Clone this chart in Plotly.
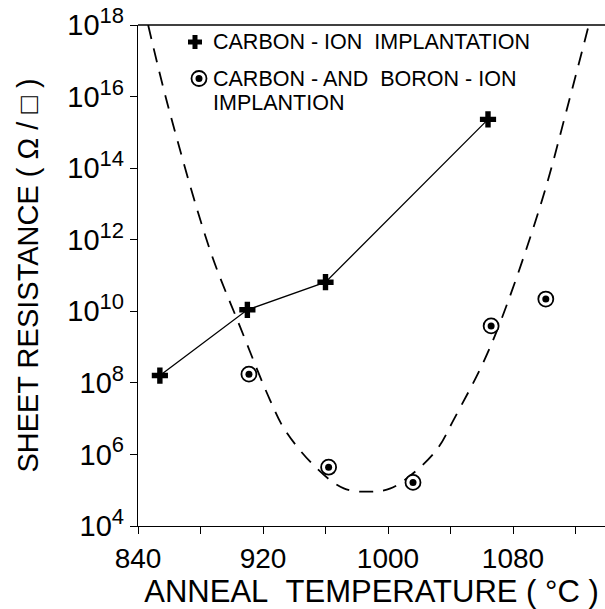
import plotly.graph_objects as go

# ---- data ----
carbon_T = [854, 910, 960, 1064]
carbon_R = [1.6e8, 1.1e10, 6.5e10, 2.3e15]

cb_T = [911, 962, 1016, 1066, 1101]
cb_R = [1.75e8, 4.4e5, 1.65e5, 3.9e9, 2.2e10]

# dashed guide curve (log10 of sheet resistance)
curve_T = [846.5, 859.4, 886.1, 905.3, 924.5, 934.1, 953.3, 971.7, 988.8,
           1001.6, 1016.3, 1031.5, 1041.9, 1065.5, 1097.3, 1115.7, 1128.5]
curve_logR = [18.0, 15.71, 11.71, 9.57, 7.52, 6.68, 5.66, 5.05, 4.96,
              5.05, 5.48, 6.15, 6.96, 9.01, 12.92, 15.85, 18.0]
curve_R = [10 ** v for v in curve_logR]

x_labels = [840, 920, 1000, 1080]
y_exps = [4, 6, 8, 10, 12, 14, 16, 18]

legend1 = "CARBON - ION\u00a0\u00a0IMPLANTATION"
legend2a = "CARBON - AND\u00a0\u00a0BORON - ION"
legend2b = "IMPLANTION"

FONT = "Liberation Sans, Arial, Helvetica, sans-serif"

W, H = 605, 609
L, R, T, B = 138, 0, 25, 83
PW, PH = W - L - R, H - T - B


def px(x):
    return (x - L) / PW


def py(y):
    return (H - B - y) / PH


fig = go.Figure()

fig.add_trace(go.Scatter(
    x=curve_T, y=curve_R, mode="lines", line_shape="spline",
    line=dict(color="black", width=1.8, dash="14px,10px"),
    showlegend=False, hoverinfo="skip"))

fig.add_trace(go.Scatter(
    x=carbon_T, y=carbon_R, mode="lines+markers",
    line=dict(color="black", width=1.3),
    marker=dict(symbol="cross", size=13.5, color="black", line=dict(width=0)),
    showlegend=False))

fig.add_trace(go.Scatter(
    x=cb_T, y=cb_R, mode="markers",
    marker=dict(symbol="circle", size=15, color="white",
                line=dict(color="black", width=1.8)),
    showlegend=False))

fig.add_trace(go.Scatter(
    x=cb_T, y=cb_R, mode="markers",
    marker=dict(symbol="circle", size=7, color="black", line=dict(width=0)),
    showlegend=False))

shapes = [
    # top frame line
    dict(type="line", xref="paper", yref="paper", x0=0, x1=1, y0=1, y1=1,
         line=dict(color="black", width=1.3)),
]
# legend symbols (pixel-sized shapes anchored in paper coords)
cx, cy = px(195), py(42)
shapes += [
    dict(type="rect", xref="paper", yref="paper", xsizemode="pixel", ysizemode="pixel",
         xanchor=cx, yanchor=cy, x0=-7, x1=7, y0=-2.5, y1=2.5,
         fillcolor="black", line=dict(width=0)),
    dict(type="rect", xref="paper", yref="paper", xsizemode="pixel", ysizemode="pixel",
         xanchor=cx, yanchor=cy, x0=-2.5, x1=2.5, y0=-7, y1=7,
         fillcolor="black", line=dict(width=0)),
]
ox, oy = px(199), py(78.5)
shapes += [
    dict(type="circle", xref="paper", yref="paper", xsizemode="pixel", ysizemode="pixel",
         xanchor=ox, yanchor=oy, x0=-7.5, x1=7.5, y0=-7.5, y1=7.5,
         fillcolor="white", line=dict(color="black", width=1.8)),
    dict(type="circle", xref="paper", yref="paper", xsizemode="pixel", ysizemode="pixel",
         xanchor=ox, yanchor=oy, x0=-3.5, x1=3.5, y0=-3.5, y1=3.5,
         fillcolor="black", line=dict(width=0)),
]

leg_font = dict(family=FONT, size=21.5, color="black")
annotations = [
    dict(text=legend1, xref="paper", yref="paper", x=px(211), y=py(42),
         xanchor="left", yanchor="middle", showarrow=False, font=leg_font),
    dict(text=legend2a, xref="paper", yref="paper", x=px(211), y=py(78.5),
         xanchor="left", yanchor="middle", showarrow=False, font=leg_font),
    dict(text=legend2b, xref="paper", yref="paper", x=px(211), y=py(103),
         xanchor="left", yanchor="middle", showarrow=False, font=leg_font),
]

fig.update_layout(
    width=W, height=H,
    margin=dict(l=L, r=R, t=T, b=B, pad=0),
    paper_bgcolor="white", plot_bgcolor="white",
    font=dict(family=FONT, color="black"),
    shapes=shapes, annotations=annotations,
    showlegend=False,
)

fig.update_xaxes(
    range=[840, 840 + PW / 1.5625],
    tickvals=x_labels, ticktext=[str(v) for v in x_labels],
    ticks="outside", ticklen=7, tickwidth=1.3, tickcolor="black",
    minor=dict(tick0=840, dtick=40, ticks="outside", ticklen=7,
               tickwidth=1.3, tickcolor="black", showgrid=False),
    showline=True, linecolor="black", linewidth=1.3,
    showgrid=False, zeroline=False,
    tickfont=dict(family=FONT, size=28),
    title=dict(text="ANNEAL\u00a0\u00a0TEMPERATURE ( \u00b0C )",
               font=dict(family=FONT, size=31), standoff=6),
)

fig.update_yaxes(
    type="log", range=[4, 18],
    tickvals=[10 ** e for e in y_exps],
    ticktext=["10<sup><span style='font-size:22px'>%d</span></sup>" % e for e in y_exps],
    ticks="outside", ticklen=7, tickwidth=1.3, tickcolor="black",
    showline=True, linecolor="black", linewidth=1.3,
    showgrid=False, zeroline=False,
    tickfont=dict(family=FONT, size=29),
    title=dict(text="SHEET RESISTANCE ( \u03a9 / \u25a1 )",
               font=dict(family=FONT, size=29), standoff=20),
)

fig.write_html("out.html")
